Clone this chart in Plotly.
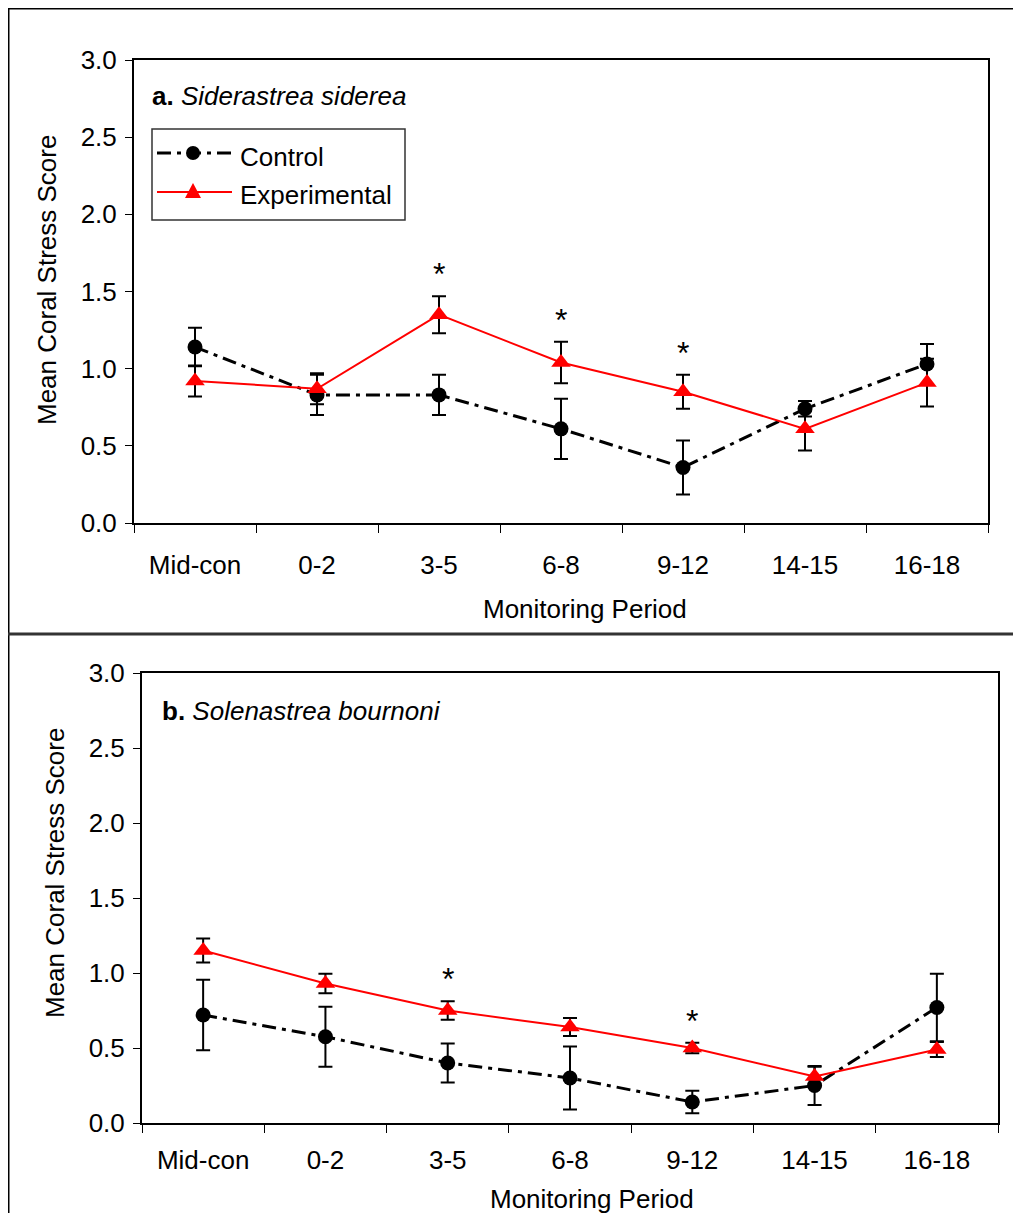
import plotly.graph_objects as go

# monitoring periods (x categories)
periods = ["Mid-con", "0-2", "3-5", "6-8", "9-12", "14-15", "16-18"]

# a. Siderastrea siderea
a_control = [1.14, 0.83, 0.83, 0.61, 0.36, 0.74, 1.03]
a_control_err = [0.125, 0.13, 0.13, 0.195, 0.175, 0.05, 0.13]
a_exp = [0.92, 0.87, 1.35, 1.04, 0.85, 0.61, 0.91]
a_exp_err = [0.10, 0.10, 0.12, 0.135, 0.11, 0.14, 0.155]
a_signif = ["3-5", "6-8", "9-12"]

# b. Solenastrea bournoni
b_control = [0.72, 0.575, 0.40, 0.30, 0.14, 0.25, 0.77]
b_control_err = [0.235, 0.20, 0.13, 0.21, 0.075, 0.13, 0.225]
b_exp = [1.15, 0.93, 0.75, 0.64, 0.50, 0.31, 0.49]
b_exp_err = [0.08, 0.065, 0.062, 0.06, 0.035, 0.065, 0.05]
b_signif = ["3-5", "9-12"]

yticks = [0, 0.5, 1.0, 1.5, 2.0, 2.5, 3.0]

# page body has an 8px margin, so the figure is a bit smaller than the window
OFF = 8
W, H = 1005, 1205
FONT = "Liberation Sans, Arial, sans-serif"
FS = 26
RED = "#ff0000"
DASHDOT = "14px,6px,4px,6px"


def px(x):
    return (x - OFF) / W


def py(y):
    return 1 - (y - OFF) / H


fig = go.Figure()

panels = [
    ("x", "y", a_control, a_control_err, a_exp, a_exp_err, a_signif),
    ("x2", "y2", b_control, b_control_err, b_exp, b_exp_err, b_signif),
]
for xa, ya, ctrl, ctrl_err, exp, exp_err, signif in panels:
    fig.add_trace(go.Scatter(
        x=periods, y=ctrl, xaxis=xa, yaxis=ya, mode="lines+markers", name="Control",
        line=dict(color="black", width=3, dash=DASHDOT),
        marker=dict(symbol="circle", size=15, color="black"),
        error_y=dict(type="data", array=ctrl_err, color="black", thickness=2, width=7),
        showlegend=False))
    fig.add_trace(go.Scatter(
        x=periods, y=exp, xaxis=xa, yaxis=ya, mode="lines+markers", name="Experimental",
        line=dict(color=RED, width=2),
        marker=dict(symbol="triangle-up", size=17, color=RED),
        error_y=dict(type="data", array=exp_err, color="black", thickness=2, width=7),
        showlegend=False))
    # significance asterisks above the experimental error bars
    for p in signif:
        i = periods.index(p)
        fig.add_annotation(x=p, y=exp[i] + exp_err[i], xref=xa, yref=ya, text="*",
                           showarrow=False, yanchor="middle", yshift=22,
                           font=dict(size=32, color="black", family=FONT))

axis_common = dict(showline=True, linecolor="black", linewidth=2, mirror=True,
                   ticks="outside", tickcolor="black", showgrid=False, zeroline=False,
                   tickfont=dict(size=FS, color="black", family=FONT))

fig.update_layout(
    width=W, height=H, margin=dict(l=0, r=0, t=0, b=0),
    template="none", plot_bgcolor="white", paper_bgcolor="white",
    font=dict(family=FONT, size=FS, color="black"),
    xaxis=dict(domain=[px(134), px(988)], anchor="y", type="category",
               categoryorder="array", categoryarray=periods, range=[-0.5, 6.5],
               tickson="boundaries", ticklen=8, ticklabelstandoff=18, **axis_common),
    yaxis=dict(domain=[py(523), py(60)], anchor="x", range=[0, 3], tickvals=yticks,
               tickformat=".1f", ticklen=7, ticklabelstandoff=3, **axis_common),
    xaxis2=dict(domain=[px(142), px(998)], anchor="y2", type="category",
                categoryorder="array", categoryarray=periods, range=[-0.5, 6.5],
                tickson="boundaries", ticklen=8, ticklabelstandoff=13, **axis_common),
    yaxis2=dict(domain=[py(1123), py(673)], anchor="x2", range=[0, 3], tickvals=yticks,
                tickformat=".1f", ticklen=7, ticklabelstandoff=3, **axis_common),
)

# axis titles and panel labels
for x, y, text, angle in [
    (47, 280, "Mean Coral Stress Score", -90),
    (585, 609, "Monitoring Period", 0),
    (55, 873, "Mean Coral Stress Score", -90),
    (592, 1199, "Monitoring Period", 0),
]:
    fig.add_annotation(x=px(x), y=py(y), xref="paper", yref="paper", text=text,
                       textangle=angle, showarrow=False, xanchor="center", yanchor="middle",
                       font=dict(size=FS, family=FONT))
fig.add_annotation(x=px(150), y=py(96), xref="paper", yref="paper",
                   text="<b>a.</b> <i>Siderastrea siderea</i>", showarrow=False,
                   xanchor="left", yanchor="middle", font=dict(size=FS, family=FONT))
fig.add_annotation(x=px(160), y=py(711), xref="paper", yref="paper",
                   text="<b>b.</b> <i>Solenastrea bournoni</i>", showarrow=False,
                   xanchor="left", yanchor="middle", font=dict(size=FS, family=FONT))

# outer frame of the figure: top edge, left edge and the divider between panels
fig.add_shape(type="line", xref="paper", yref="paper", x0=0, x1=1, y0=1, y1=1,
              line=dict(color="black", width=3))
fig.add_shape(type="line", xref="paper", yref="paper", x0=0, x1=0, y0=1, y1=0,
              line=dict(color="black", width=3))
fig.add_shape(type="line", xref="paper", yref="paper", x0=0, x1=1, y0=py(634), y1=py(634),
              line=dict(color="#333333", width=3))

# legend box for panel a
fig.add_shape(type="rect", xref="paper", yref="paper", x0=px(152), x1=px(405),
              y0=py(220), y1=py(129), line=dict(color="#333333", width=1.5),
              fillcolor="white")
fig.add_shape(type="line", xref="paper", yref="paper", x0=px(157), x1=px(232),
              y0=py(153), y1=py(153), line=dict(color="black", width=3, dash=DASHDOT))
fig.add_shape(type="circle", xref="paper", yref="paper", x0=px(186), x1=px(200),
              y0=py(160), y1=py(146), fillcolor="black", line=dict(width=0))
fig.add_shape(type="line", xref="paper", yref="paper", x0=px(157), x1=px(232),
              y0=py(192), y1=py(192), line=dict(color=RED, width=2))
fig.add_shape(type="path", xref="paper", yref="paper",
              path=f"M {px(185)} {py(198)} L {px(201)} {py(198)} L {px(193)} {py(183)} Z",
              fillcolor=RED, line=dict(width=0))
for y, text in [(157, "Control"), (195, "Experimental")]:
    fig.add_annotation(x=px(238), y=py(y), xref="paper", yref="paper", text=text,
                       showarrow=False, xanchor="left", yanchor="middle",
                       font=dict(size=FS, family=FONT))

fig.write_html("out.html")
